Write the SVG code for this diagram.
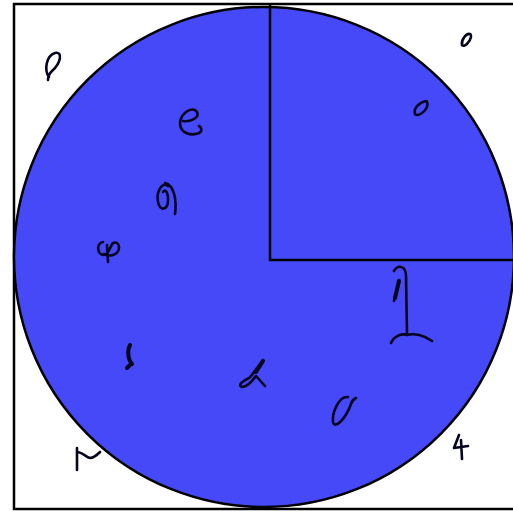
<svg xmlns="http://www.w3.org/2000/svg" width="513" height="513" viewBox="0 0 513 513">
<style>
.frame{fill:none;stroke:#000;stroke-width:2.5}
.disk{fill:#4549f7;stroke:#000;stroke-width:2.5}
.box{fill:none;stroke:#000;stroke-width:2.5}
.ink{fill:none;stroke:#050520;stroke-width:2.6;stroke-linecap:round;stroke-linejoin:round}
.thick{stroke-width:4}
</style>
<rect width="513" height="513" fill="#fff"/>
<g id="frame"><rect class="frame" x="14" y="4" width="502" height="505"/></g>
<g id="disk"><circle class="disk" cx="264" cy="257" r="250"/></g>
<g id="quadrant"><path class="box" d="M270,4 V260 H515"/></g>
<g id="scribbles">
<path class="ink" d="M49,77 C44,70 46,56 55,53 C63,51 61,63 52,71 C49,74 48,76 48,80"/>
<path class="ink" d="M183,121 C190,122 200,118 197,112 C193,106 181,112 180,123 C180,134 192,136 199,133 C203,131 201,127 199,126"/>
<path class="ink" d="M168,186 C162,181 156,192 158,202 C160,212 168,210 168,200 C168,192 165,188 163,192 M165,183 C174,185 177,200 175,214"/>
<path class="ink" d="M103,242 C96,243 97,255 104,255 C109,255 110,246 113,243 C120,240 122,252 113,255 C110,256 106,255 104,254 M107,245 L108,262"/>
<path class="ink" d="M470,34 C466,33 461,40 462,45 C464,48 470,42 471,37 C471,34 470,34 470,34"/>
<path class="ink" d="M426,101 C420,102 413,108 415,114 C418,117 425,112 427,107 C428,103 427,101 426,101"/>
<path class="ink" d="M394,271 C398,264 406,266 406,276 L407,334 M399,280 L394,301"/>
<path class="ink thick" d="M399,281 L395,298"/>
<path class="ink" d="M391,343 C394,336 402,333 407,335 C414,333 424,335 432,341"/>
<path class="ink thick" d="M130,345 C127,350 128,360 132,364 M130,365 L127,368"/>
<path class="ink" d="M263,360 C258,366 252,376 249,378 C243,381 237,385 242,387 C247,387 253,380 256,376 L265,386"/>
<path class="ink thick" d="M263,361 L256,372"/>
<path class="ink" d="M348,397 C338,396 332,414 333,422 C335,430 346,418 351,404 C352,400 354,399 356,398"/>
<path class="ink" d="M459,435 L454,448 L468,446 M461,440 L462,459"/>
<path class="ink" d="M77,448 L77,470 M77,452 C82,452 86,457 90,458 C94,458 97,455 100,452"/>
</g>
</svg>
